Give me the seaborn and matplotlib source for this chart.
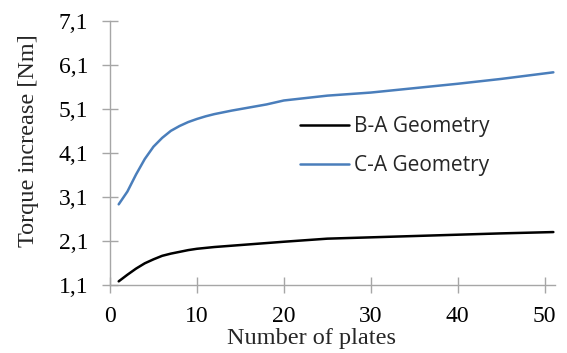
import pandas as pd
import matplotlib
matplotlib.use('Agg')
import matplotlib.pyplot as plt
import seaborn as sns

plates = [1, 2, 3, 4, 5, 6, 7, 8, 9, 10, 11, 12, 14, 16, 18, 20, 25, 30, 35, 40, 45, 51]
ba_torque = [1.18, 1.33, 1.47, 1.59, 1.68, 1.76, 1.81, 1.85, 1.89, 1.92, 1.94, 1.96,
             1.99, 2.02, 2.05, 2.08, 2.15, 2.18, 2.21, 2.24, 2.27, 2.30]
ca_torque = [2.93, 3.22, 3.61, 3.96, 4.24, 4.44, 4.60, 4.71, 4.80, 4.87, 4.93, 4.98,
             5.06, 5.13, 5.20, 5.29, 5.40, 5.47, 5.57, 5.67, 5.78, 5.93]
series_names = ['B-A Geometry', 'C-A Geometry']
y_ticks = [1.1, 2.1, 3.1, 4.1, 5.1, 6.1, 7.1]
y_ticklabels = ['1,1', '2,1', '3,1', '4,1', '5,1', '6,1', '7,1']
x_ticks = [0, 10, 20, 30, 40, 50]

df = pd.DataFrame({
    'plates': plates * 2,
    'torque': ba_torque + ca_torque,
    'geometry': [series_names[0]] * len(plates) + [series_names[1]] * len(plates),
})

sns.set_style('white')
plt.rcParams['font.family'] = ['Liberation Serif', 'DejaVu Serif']

fig = plt.figure(figsize=(5.67, 3.53), dpi=100)
ax = fig.add_axes([0.194, 0.193, 0.785, 0.748])

sns.lineplot(ax=ax, data=df, x='plates', y='torque', hue='geometry',
             palette={series_names[0]: 'black', series_names[1]: '#4a7ebb'},
             linewidth=1.8)

ax.set_xlim(0, 51.2)
ax.set_ylim(1.1, 7.1)
ax.set_xticks(x_ticks)
ax.set_yticks(y_ticks)
ax.set_yticklabels(y_ticklabels)

for side in ['top', 'right']:
    ax.spines[side].set_visible(False)
for side in ['left', 'bottom']:
    ax.spines[side].set_color('#a6a6a6')
    ax.spines[side].set_linewidth(1.0)

ax.tick_params(bottom=True, left=True, direction='inout', length=11, width=1.0,
               color='#a6a6a6', labelsize=17, labelcolor='black')
ax.tick_params(axis='x', pad=10)
ax.tick_params(axis='y', pad=10)

ax.set_xlabel('Number of plates', fontsize=17.5, va='top')
ax.set_ylabel('Torque increase [Nm]', fontsize=17.5, va='bottom')
ax.xaxis.set_label_coords(0.452, -0.165)
ax.yaxis.set_label_coords(-0.16, 0.545)

leg = ax.legend(title=None, frameon=False, loc='upper left',
                bbox_to_anchor=(0.385, 0.71), handlelength=2.35, handletextpad=0.25,
                labelspacing=0.85, prop={'family': 'Open Sans', 'size': 15})

fig.savefig('out.png', dpi=100)
